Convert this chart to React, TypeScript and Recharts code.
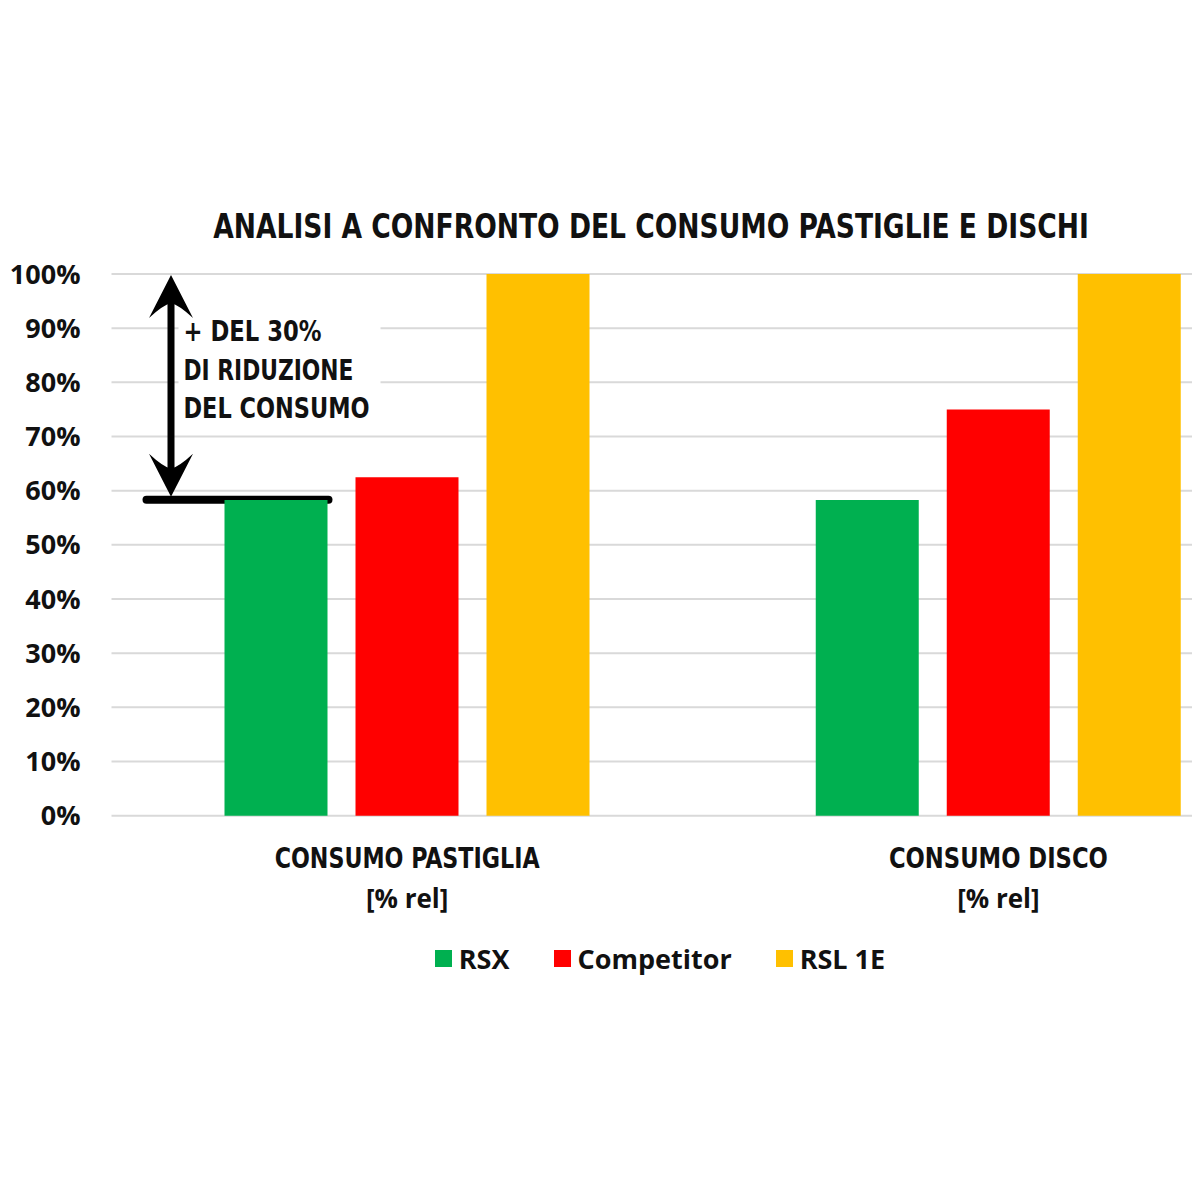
import { useLayoutEffect, useRef, useState } from "react"
import { BarChart, Bar, XAxis, YAxis, CartesianGrid, Legend, ReferenceArea } from "recharts"

const title = "ANALISI A CONFRONTO DEL CONSUMO PASTIGLIE E DISCHI"
const categories = ["CONSUMO PASTIGLIA", "CONSUMO DISCO"]
const unitLabel = "[% rel]"
const seriesNames = ["RSX", "Competitor", "RSL 1E"]
const rsxValues = [58.3, 58.3]
const competitorValues = [62.5, 75]
const rsl1eValues = [100, 100]
const yTicks = [0, 10, 20, 30, 40, 50, 60, 70, 80, 90, 100]
const noteLines = ["+ DEL 30%", "DI RIDUZIONE", "DEL CONSUMO"]
const noteFrom = 58.5
const noteTo = 100

const data = categories.map((category, i) => ({
  category,
  rsx: rsxValues[i],
  competitor: competitorValues[i],
  rsl1e: rsl1eValues[i],
}))

const COND = "'Liberation Sans Narrow', 'Arial Narrow', 'DejaVu Sans Condensed', Roboto, sans-serif"
const SANS = "'Open Sans', 'Noto Sans', sans-serif"

// text widths measured on the reference (condensed heading face)
const tickWidths: Record<string, number> = { "CONSUMO PASTIGLIA": 265, "CONSUMO DISCO": 219 }
const noteWidths = [138, 170, 186]

function CategoryTick({ x, y, payload }: any) {
  return (
    <g>
      <text
        x={x}
        y={y + 52}
        textAnchor="middle"
        fontFamily={COND}
        fontWeight={700}
        fontSize={28}
        fill="#111"
        textLength={tickWidths[payload.value]}
        lengthAdjust="spacingAndGlyphs"
      >
        {payload.value}
      </text>
      <text x={x} y={y + 92} textAnchor="middle" fontFamily={SANS} fontWeight={700} fontSize={26} fill="#111">
        {unitLabel}
      </text>
    </g>
  )
}

function Note({ x, y, height }: any) {
  const bottom = y + height
  const cx = x + 59.5
  const top = y + 1
  const tipB = bottom - 2
  return (
    <g>
      <rect x={x + 67} y={y + 26} width={202} height={124} fill="#fff" />
      <line x1={cx} y1={top + 20} x2={cx} y2={tipB - 20} stroke="#000" strokeWidth={7} />
      <path d={`M${cx},${top} L${cx + 22},${top + 43} Q${cx + 8},${top + 30} ${cx},${top + 28} Q${cx - 8},${top + 30} ${cx - 22},${top + 43} Z`} fill="#000" />
      <path d={`M${cx},${tipB} L${cx + 22},${tipB - 43} Q${cx + 8},${tipB - 30} ${cx},${tipB - 28} Q${cx - 8},${tipB - 30} ${cx - 22},${tipB - 43} Z`} fill="#000" />
      <line x1={x + 35} y1={bottom + 1} x2={x + 217} y2={bottom + 1} stroke="#000" strokeWidth={8} strokeLinecap="round" />
      {noteLines.map((line, i) => (
        <text
          key={line}
          x={x + 72}
          y={y + 67 + i * 38.5}
          fontFamily={COND}
          fontWeight={700}
          fontSize={29}
          fill="#111"
          textLength={noteWidths[i]}
          lengthAdjust="spacingAndGlyphs"
        >
          {line}
        </text>
      ))}
    </g>
  )
}

function LegendContent({ payload }: any) {
  const items = [...(payload || [])].sort(
    (a: any, b: any) => seriesNames.indexOf(a.value) - seriesNames.indexOf(b.value)
  )
  return (
    <div
      style={{
        display: "flex",
        justifyContent: "center",
        alignItems: "center",
        gap: 44,
        height: 40,
        fontFamily: SANS,
        fontWeight: 700,
        fontSize: 27,
        color: "#111",
      }}
    >
      {items.map((entry: any) => (
        <span key={entry.value} style={{ display: "flex", alignItems: "center" }}>
          <span style={{ width: 17, height: 17, background: entry.color, marginRight: 7, display: "inline-block" }} />
          {entry.value}
        </span>
      ))}
    </div>
  )
}

// title squeezed horizontally to the reference width of 876px
function Title() {
  const ref = useRef<SVGTextElement>(null)
  const [sx, setSx] = useState(0.85)
  useLayoutEffect(() => {
    if (ref.current) {
      const w = ref.current.getComputedTextLength()
      if (w > 0) setSx(876 / w)
    }
  }, [])
  return (
    <svg style={{ position: "absolute", left: 0, top: 0, pointerEvents: "none" }} width={1192} height={260}>
      <g transform={`translate(643,230) scale(${sx},1)`}>
        <text ref={ref} x={0} y={0} textAnchor="middle" fontFamily={COND} fontWeight={700} fontSize={34} fill="#111">
          {title}
        </text>
      </g>
    </svg>
  )
}

export default function App() {
  return (
    <div style={{ position: "relative", width: 1192, height: 1000, overflow: "hidden", background: "#fff" }}>
      <BarChart
        width={1286}
        height={1000}
        data={data}
        margin={{ top: 266, right: 0, bottom: 72.3, left: 0 }}
        barCategoryGap={113}
        barGap={28}
      >
        <CartesianGrid vertical={false} stroke="#d9d9d9" strokeWidth={2} />
        <XAxis
          dataKey="category"
          axisLine={false}
          tickLine={false}
          tickSize={0}
          tickMargin={0}
          height={120}
          interval={0}
          tick={<CategoryTick />}
        />
        <YAxis
          domain={[0, 100]}
          ticks={yTicks}
          width={103.5}
          axisLine={false}
          tickLine={false}
          tickSize={0}
          tickMargin={31}
          tickFormatter={(v: number) => `${v}%`}
          tick={{ fontFamily: SANS, fontWeight: 700, fontSize: 27, fill: "#111" }}
        />
        <Legend
          layout="horizontal"
          verticalAlign="middle"
          align="center"
          wrapperStyle={{ top: 930, left: 352, width: 600 }}
          content={<LegendContent />}
        />
        <Bar dataKey="rsx" name={seriesNames[0]} fill="#00b050" isAnimationActive={false} />
        <Bar dataKey="competitor" name={seriesNames[1]} fill="#ff0000" isAnimationActive={false} />
        <Bar dataKey="rsl1e" name={seriesNames[2]} fill="#ffc000" isAnimationActive={false} />
        <ReferenceArea y1={noteFrom} y2={noteTo} ifOverflow="visible" fill="none" shape={<Note />} />
      </BarChart>
      <Title />
    </div>
  )
}
